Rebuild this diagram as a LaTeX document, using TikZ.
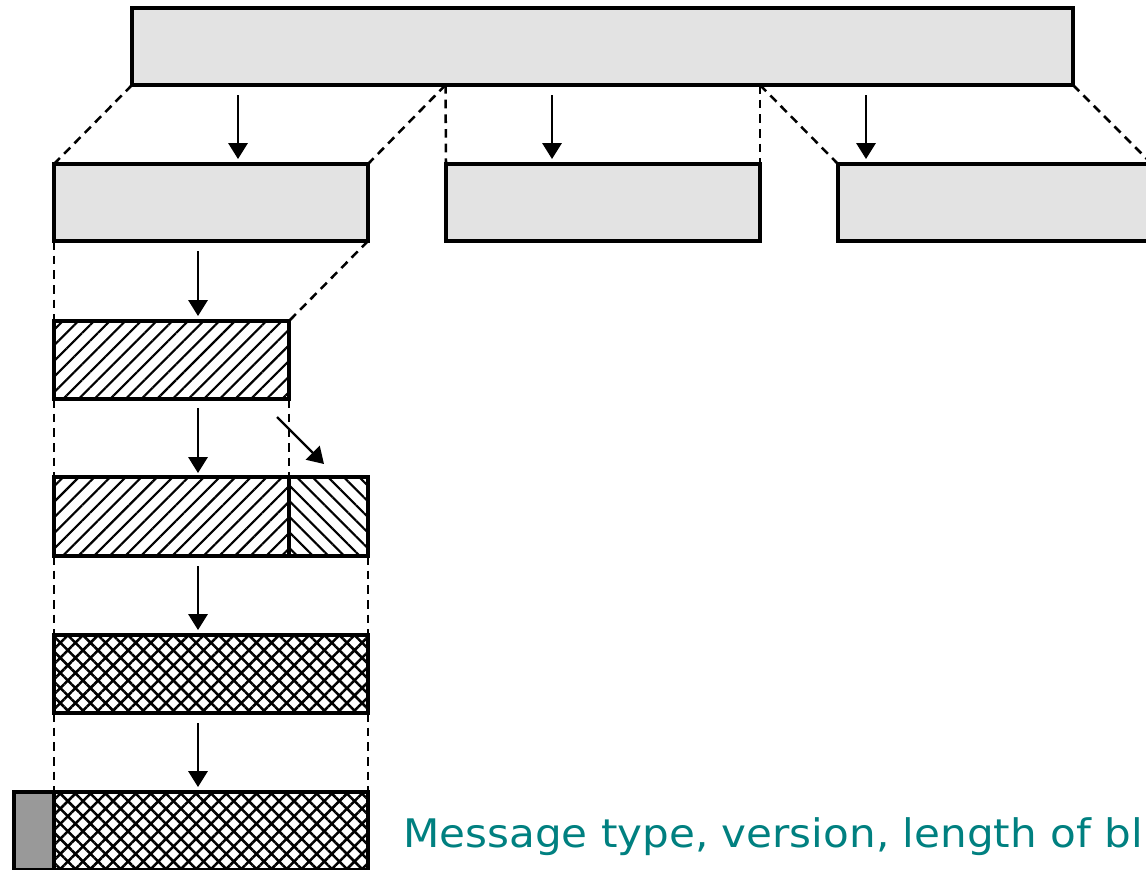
\documentclass[tikz,border=0pt]{standalone}
\usepackage{fontspec}
\newfontfamily\lblfont{DejaVu Sans}
\usetikzlibrary{arrows.meta,patterns.meta}
\definecolor{boxgray}{HTML}{E3E3E3}
\definecolor{darkgray}{HTML}{999999}
\definecolor{tealtext}{HTML}{008080}
\tikzset{
  sz/.style 2 args={minimum width=#1*0.75pt, minimum height=#2*0.75pt},
  blk/.style={draw=black, line width=2.7pt, inner sep=0pt, outer sep=0pt},
  plain/.style={blk, fill=boxgray},
  hatchne/.style={blk, pattern={Lines[angle=45,distance=8.3pt,line width=1.6pt]}},
  hatchnw/.style={blk, pattern={Lines[angle=-45,distance=8.3pt,line width=1.6pt]}},
  xhatch/.style={blk, pattern={Hatch[angle=45,distance=8pt,line width=1.9pt]}},
  hdr/.style={blk, fill=darkgray},
  guide/.style={line width=1.9pt, dash pattern=on 6.5pt off 4.5pt},
  arr/.style={line width=1.7pt, -{Triangle[width=14.5pt,length=12pt]}},
}
\begin{document}
\begin{tikzpicture}[x=0.75pt,y=-0.75pt]
\useasboundingbox (0,0) rectangle (1146,869);
\clip (0,0) rectangle (1146,869);
% boxes
\node[plain, sz={941}{77}] (top) at (602.5,46.5) {};
\node[plain, sz={314}{77}] (b1) at (211,202.5) {};
\node[plain, sz={314}{77}] (b2) at (603,202.5) {};
\node[plain, sz={314}{77}] (b3) at (995,202.5) {};
\node[hatchne, sz={235}{78}] (h1) at (171.5,360) {};
\node[hatchne, sz={235}{79}] (h2a) at (171.5,516.5) {};
\node[hatchnw, sz={79}{79}] (h2b) at (328.5,516.5) {};
\node[xhatch, sz={314}{78}] (c1) at (211,674) {};
\node[xhatch, sz={314}{78}] (c2) at (211,831) {};
\node[hdr, sz={40}{78}] (g) at (34,831) {};
% split points on the top box
\coordinate (t1) at (445.5,85);
\coordinate (t2) at (760,85);
% dashed guides
\draw[guide] (top.south west) -- (b1.north west);
\draw[guide] (t1) -- (b1.north east);
\draw[guide] (t1) -- (b2.north west);
\draw[guide] (t2) -- (b2.north east);
\draw[guide] (t2) -- (b3.north west);
\draw[guide] (top.south east) -- (b3.north east);
\draw[guide] (b1.south west) -- (h1.north west);
\draw[guide] (b1.south east) -- (h1.north east);
\draw[guide] (h1.south west) -- (h2a.north west);
\draw[guide] (h1.south east) -- (h2a.north east);
\draw[guide] (h2a.south west) -- (c1.north west);
\draw[guide] (h2b.south east) -- (c1.north east);
\draw[guide] (c1.south west) -- (c2.north west);
\draw[guide] (c1.south east) -- (c2.north east);
% arrows
\coordinate (a1s) at (238,95);  \coordinate (a1e) at (238,159);
\coordinate (a2s) at (552,95);  \coordinate (a2e) at (552,159);
\coordinate (a3s) at (866,95);  \coordinate (a3e) at (866,159);
\coordinate (a4s) at (198,251); \coordinate (a4e) at (198,316);
\coordinate (a5s) at (198,408); \coordinate (a5e) at (198,473);
\coordinate (a6s) at (198,566); \coordinate (a6e) at (198,630);
\coordinate (a7s) at (198,723); \coordinate (a7e) at (198,787);
\coordinate (d1s) at (277,417); \coordinate (d1e) at (324,464);
\draw[arr] (a1s) -- (a1e);
\draw[arr] (a2s) -- (a2e);
\draw[arr] (a3s) -- (a3e);
\draw[arr] (a4s) -- (a4e);
\draw[arr] (a5s) -- (a5e);
\draw[arr] (a6s) -- (a6e);
\draw[arr] (a7s) -- (a7e);
\draw[arr] (d1s) -- (d1e);
% label
\node[anchor=base west, inner sep=0pt, text=tealtext, font=\lblfont\fontsize{29.5pt}{34pt}\selectfont, xscale=1.07] (lbl) at (403,847) {Message type, version, length of bl};
\end{tikzpicture}
\end{document}
